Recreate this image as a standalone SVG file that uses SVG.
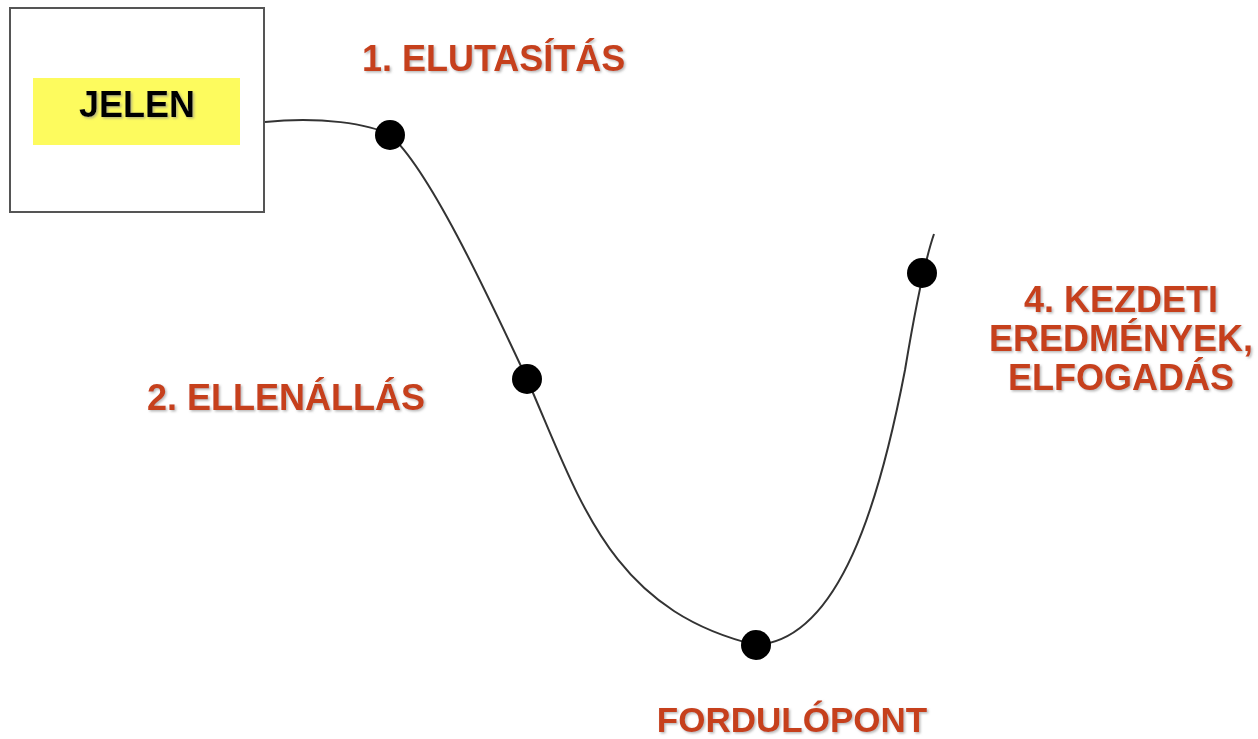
<svg xmlns="http://www.w3.org/2000/svg" width="1258" height="739" viewBox="0 0 1258 739">
<defs>
<filter id="sh" x="-5%" y="-20%" width="110%" height="140%">
<feDropShadow dx="1.5" dy="1.5" stdDeviation="1" flood-color="#888" flood-opacity="0.6"/>
</filter>
<style>
.lbl{font-family:"Liberation Sans",Arial,sans-serif;font-weight:bold;font-size:36px;fill:#C6401B;filter:url(#sh)}
.dot{fill:#000}
</style>
</defs>
<rect width="1258" height="739" fill="#fff"/>
<g id="connectors">
<path d="M265,122 C320,116 370,124 390,135 C430,170 490,300 527,379 C580,500 610,610 756,645 C840,640 880,500 905,370 C915,310 925,260 934,234" fill="none" stroke="#333" stroke-width="2"/>
</g>
<g id="jelen">
<rect x="10" y="8" width="254" height="204" fill="#fff" stroke="#555" stroke-width="2"/>
<rect x="33" y="78" width="207" height="67" fill="#FDFB5E"/>
<text x="137" y="117" text-anchor="middle" font-family="Liberation Sans,Arial,sans-serif" font-weight="bold" font-size="36" fill="#000" filter="url(#sh)">JELEN</text>
</g>
<g id="p1">
<circle class="dot" cx="390" cy="135" r="15"/>
<text class="lbl" x="362" y="71">1. ELUTASÍTÁS</text>
</g>
<g id="p2">
<circle class="dot" cx="527" cy="379" r="15"/>
<text class="lbl" x="147" y="410">2. ELLENÁLLÁS</text>
</g>
<g id="p3">
<circle class="dot" cx="756" cy="645" r="15"/>
<text class="lbl" x="792" y="732" text-anchor="middle" style="font-size:35px">FORDULÓPONT</text>
</g>
<g id="p4">
<circle class="dot" cx="922" cy="273" r="15"/>
<text class="lbl" x="1121" y="312" text-anchor="middle">4. KEZDETI</text>
<text class="lbl" x="1121" y="351" text-anchor="middle">EREDMÉNYEK,</text>
<text class="lbl" x="1121" y="390" text-anchor="middle">ELFOGADÁS</text>
</g>
</svg>
